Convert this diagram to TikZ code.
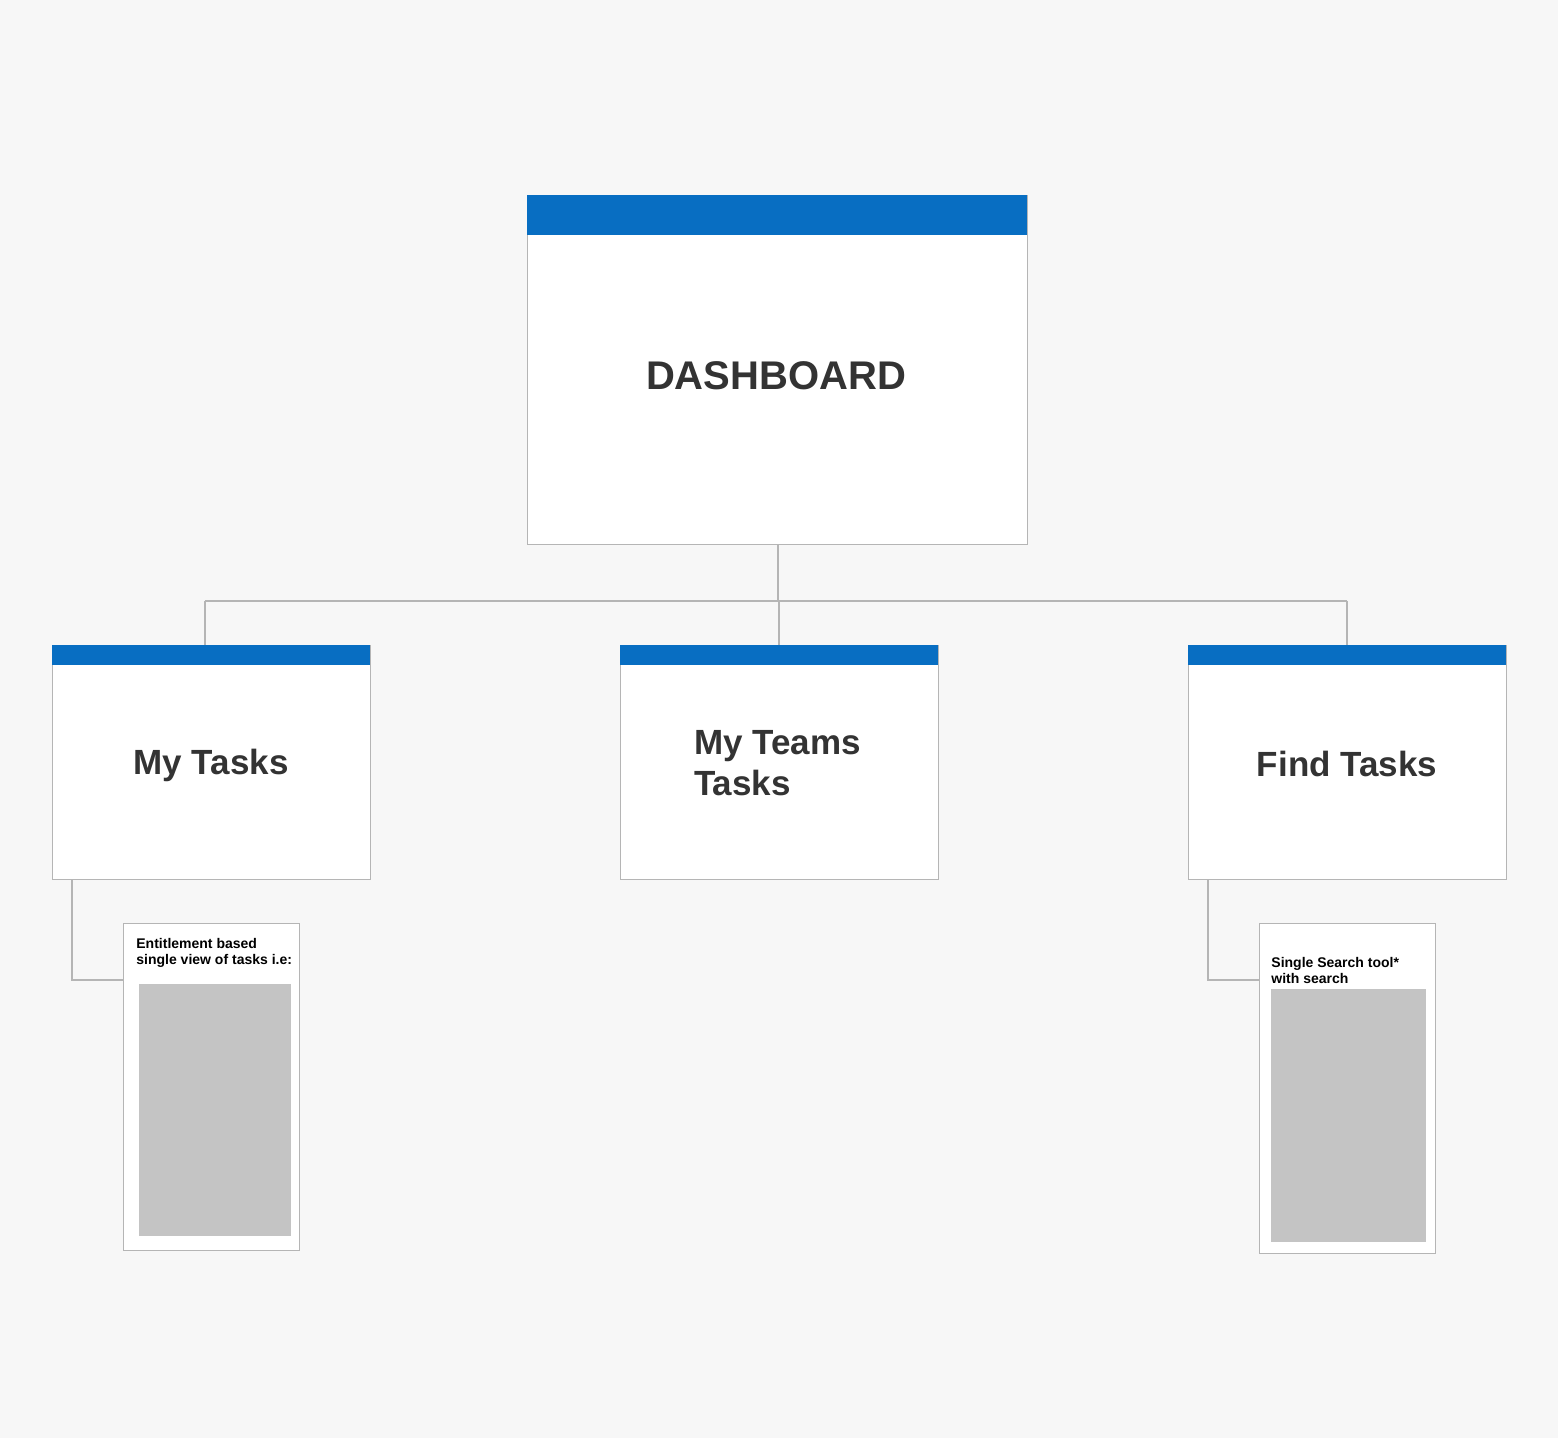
\documentclass[tikz,border=0pt]{standalone}
\usepackage{fontspec}
\setmainfont{Liberation Sans}
\definecolor{bg}{HTML}{F7F7F7}
\definecolor{edge}{HTML}{B5B5B5}
\definecolor{hdr}{HTML}{086EC2}
\definecolor{txt}{HTML}{333333}
\definecolor{ph}{HTML}{C4C4C4}
\begin{document}
\begin{tikzpicture}[x=0.5pt,y=-0.5pt,
  card/.style={draw=edge,line width=0.7pt,fill=white,anchor=north west,inner sep=0pt},
  header/.style={fill=hdr,draw=none},
  conn/.style={draw=edge,line width=0.8pt},
  big/.style={font=\bfseries\fontsize{17.5}{20.5}\selectfont,text=txt,align=center},
  small/.style={font=\bfseries\fontsize{7}{8}\selectfont,text=black,align=left,anchor=north west,inner sep=0pt},
  place/.style={fill=ph,draw=none,anchor=north west,inner sep=0pt}]
\fill[bg] (0,0) rectangle (1558,1438);
\useasboundingbox (0,0) rectangle (1558,1438);
% dashboard
\node[card,minimum width=250pt,minimum height=174.5pt] (dash) at (527,195) {};
\fill[header] (527,195) rectangle (1027,235);
\node[font=\bfseries\fontsize{20}{24}\selectfont,text=txt] (dashlbl) at (776,376) {DASHBOARD};
% children
\node[card,minimum width=159pt,minimum height=117pt] (my) at (52,645) {};
\fill[header] (52,645) rectangle (370,665);
\node[big] (mylbl) at (211,765) {My Tasks};
\node[card,minimum width=159pt,minimum height=117pt] (team) at (620,645) {};
\fill[header] (620,645) rectangle (938,665);
\node[big,align=left,anchor=west] (teamlbl) at (687,763) {My Teams\\Tasks};
\node[card,minimum width=159pt,minimum height=117pt] (find) at (1188,645) {};
\fill[header] (1188,645) rectangle (1506,665);
\node[big] (findlbl) at (1347,764) {Find Tasks};
% connectors
\coordinate (j0) at (778,601);
\coordinate (jl) at (205,601);
\coordinate (jr) at (1347,601);
\draw[conn] (dash.south -| j0) -- (j0);
\draw[conn] (jl) -- (jr);
\draw[conn] (jl) -- (jl |- my.north);
\draw[conn] (779,601) -- (779,645);
\draw[conn] (jr) -- (jr |- find.north);
% detail cards
\node[card,minimum width=88pt,minimum height=163.5pt] (ent) at (123,923) {};
\node[place,minimum width=76pt,minimum height=126pt] (entph) at (139,984) {};
\node[small] (enttxt) at (136,938) {Entitlement based\\single view of tasks i.e:};
\node[card,minimum width=88pt,minimum height=165pt] (srch) at (1259,923) {};
\node[place,minimum width=77.5pt,minimum height=126.5pt] (srchph) at (1271,989) {};
\node[small] (srchtxt) at (1271,957) {Single Search tool*\\with search};
\coordinate (el) at (72,980);
\coordinate (er) at (1208,980);
\draw[conn] (el |- my.south) -- (el) -- (ent.west |- el);
\draw[conn] (er |- find.south) -- (er) -- (srch.west |- er);
\end{tikzpicture}
\end{document}
